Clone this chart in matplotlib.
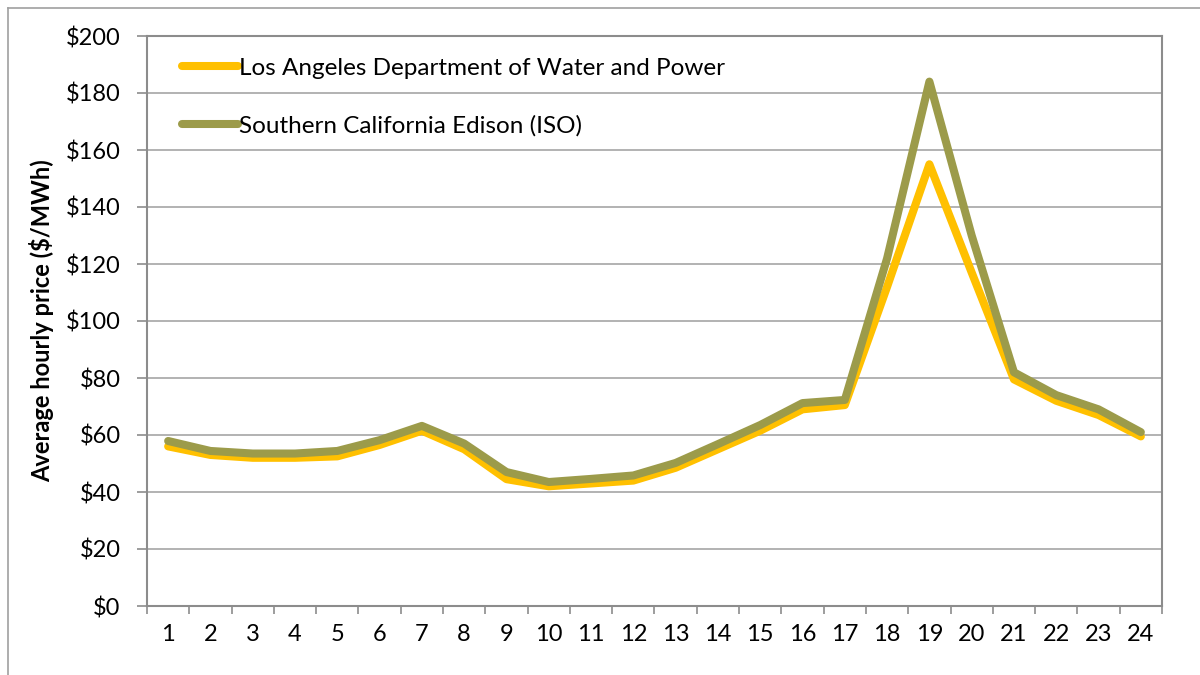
import numpy as np
import matplotlib
matplotlib.use("Agg")
import matplotlib.pyplot as plt
from matplotlib.lines import Line2D

plt.rcParams['font.family'] = ['Lato', 'DejaVu Sans']

# hourly average prices ($/MWh)
hours = list(range(1, 25))
ladwp = [56, 53, 52, 52, 52.5, 56.5, 61.5, 55, 44.5, 42, 43, 44,
         48.5, 55, 61.5, 69, 70.5, 112, 155, 117, 79.5, 72, 67, 59.5]
sce = [57.9, 54.4, 53.5, 53.5, 54.4, 58.2, 63.2, 57, 47, 43.5, 44.6, 45.8,
       50.2, 56.8, 63.5, 71.2, 72.3, 122, 184, 130, 82, 74, 69, 61]
yticks = list(range(0, 201, 20))

YELLOW = '#FFC000'
OLIVE = '#9C9B4A'
GRID = '#A6A6A6'
AXIS = '#8C8C8C'

fig = plt.figure(figsize=(12, 6.75), dpi=100)
ax = fig.add_axes([147 / 1200, 1 - 606 / 675, (1162 - 147) / 1200, (606 - 36) / 675])

lw = 5.8
ax.plot(hours, ladwp, color=YELLOW, lw=lw, solid_capstyle='round',
        solid_joinstyle='round', label='Los Angeles Department of Water and Power', zorder=3)
ax.plot(hours, sce, color=OLIVE, lw=lw, solid_capstyle='round',
        solid_joinstyle='round', label='Southern California Edison (ISO)', zorder=4)

ax.set_xlim(0.5, 24.5)
ax.set_ylim(0, 200)
ax.set_yticks(yticks)
ax.set_yticklabels(['${}'.format(v) for v in yticks])
ax.set_xticks(hours)
ax.set_xticklabels([str(h) for h in hours])
ax.set_xticks(np.arange(0.5, 25, 1), minor=True)

ax.tick_params(axis='x', which='major', length=0, pad=13, labelsize=17)
ax.tick_params(axis='x', which='minor', length=6, width=1.2, color=AXIS, direction='out')
ax.tick_params(axis='y', length=7, width=1.2, color=AXIS, pad=12, labelsize=17)

ax.yaxis.grid(True, color=GRID, lw=1.2)
ax.set_axisbelow(True)
for side in ['left', 'right', 'top', 'bottom']:
    ax.spines[side].set_color(AXIS)
    ax.spines[side].set_linewidth(1.5)

ax.set_ylabel('Average hourly price ($/MWh)', fontsize=17, fontweight='bold', labelpad=8)

leg = ax.legend(loc='upper left', bbox_to_anchor=(0.013, 1.0), frameon=False,
                fontsize=17.5, handlelength=2.3, handletextpad=0.05, labelspacing=1.5)

# outer chart frame (partly cropped)
fig.add_artist(Line2D([8 / 1200, 8 / 1200], [0, 1 - 8 / 675], color='#A0A0A0', lw=1.2))
fig.add_artist(Line2D([8 / 1200, 1], [1 - 8 / 675, 1 - 8 / 675], color='#A0A0A0', lw=1.2))

fig.savefig('out.png', dpi=100)
